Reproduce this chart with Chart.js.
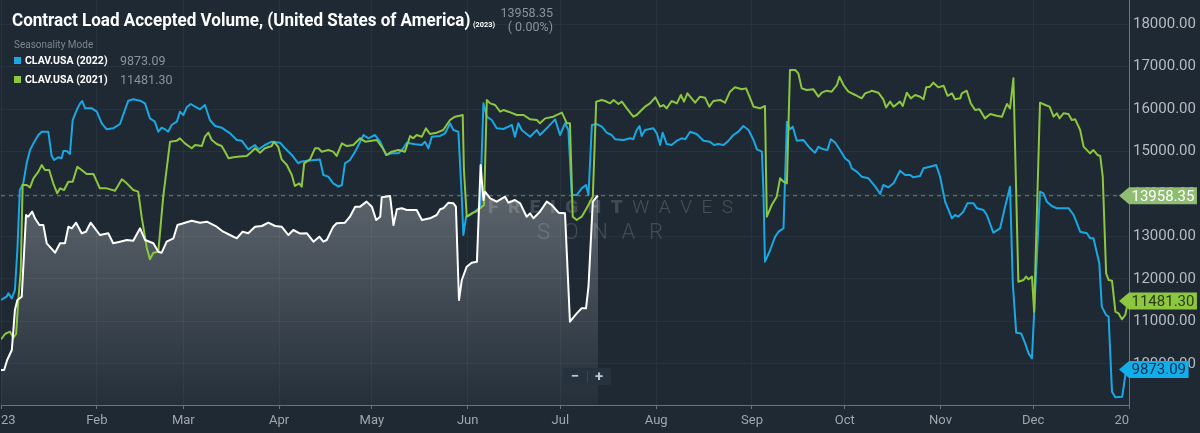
<!DOCTYPE html>
<html>
<head>
<meta charset="utf-8">
<script src="https://cdn.jsdelivr.net/npm/chart.js@4.4.1/dist/chart.umd.min.js"></script>
<style>
  html, body { margin: 0; padding: 0; background: #1e2934; }
  #wrap { position: relative; width: 1200px; height: 433px; overflow: hidden; font-family: Roboto, "Open Sans", sans-serif; }
  #chart { position: absolute; left: 0; top: 0; }
  .ov { position: absolute; white-space: nowrap; line-height: 1; }
  #title { left: 12px; top: 11px; font-size: 18px; font-weight: 700; color: #ffffff; transform-origin: 0 0; }
  #titleYear { left: 473px; top: 21px; font-size: 8px; font-weight: 700; color: #ffffff; transform-origin: 0 0; }
  #headVal, #headPct { left: 460px; width: 93px; text-align: right; font-size: 12.5px; color: #8a939c; }
  #headVal { top: 7px; }
  #headPct { top: 21px; }
  #season { left: 14px; top: 40px; font-size: 10px; color: #7d868e; }
  .sw { position: absolute; width: 7px; height: 7px; left: 14px; }
  .legName { left: 25px; font-size: 10.5px; font-weight: 700; color: #ffffff; }
  .legVal { left: 120px; font-size: 12.5px; color: #8a939c; }
  #zoomBox { left: 563px; top: 368px; width: 48px; height: 17px; background: #26323d; border-radius: 2px; }
  #zoomBox span { position: absolute; top: 0; width: 24px; height: 17px; line-height: 17px; text-align: center; color: #c3c8cd; font-size: 15px; font-weight: 700; }
  #zoomBox .sep { position: absolute; left: 24px; top: 3px; width: 1px; height: 11px; background: #3b4753; }
</style>
</head>
<body>
<div id="wrap">
  <canvas id="chart" width="1200" height="433"></canvas>
  <div class="ov" id="title">Contract Load Accepted Volume, (United States of America)</div>
  <div class="ov" id="titleYear">(2023)</div>
  <div class="ov" id="headVal"></div>
  <div class="ov" id="headPct">( 0.00%)</div>
  <div class="ov" id="season">Seasonality Mode</div>
  <div class="sw" style="top:57px;background:#1ba8e2"></div>
  <div class="ov legName" style="top:56px">CLAV.USA (2022)</div>
  <div class="ov legVal" id="legVal2022" style="top:55px"></div>
  <div class="sw" style="top:76px;background:#8dc63f"></div>
  <div class="ov legName" style="top:75px">CLAV.USA (2021)</div>
  <div class="ov legVal" id="legVal2021" style="top:74px"></div>
  <div class="ov" id="zoomBox"><span style="left:0">&minus;</span><div class="sep"></div><span style="left:24px">+</span></div>
</div>
<script>
// day of year (0 = Jan 1) and volume per series
const days2023 = [0, 1, 2, 3.5, 4.5, 5.3, 6.7, 7.4, 8.1, 8.8,
  10.1, 11, 12.4, 13.7, 14.8, 17.5, 19.1, 20.7, 21.8, 22.9,
  24.3, 26.1, 27.5, 29, 30.4, 32, 34.7, 36.3, 38.5, 40.7,
  42.8, 45, 46.6, 49.3, 50.9, 52, 53.6, 55.8, 57.1, 59,
  61.7, 64.4, 66.6, 69.8, 71.9, 74.1, 76.3, 78.2, 80, 82.2,
  84.4, 86.5, 88.7, 90.8, 93, 94.6, 96.8, 99, 101.1, 103,
  104.3, 105.4, 107.5, 108.6, 111.3, 112.9, 114.6, 116.2, 118.3, 120,
  121.4, 122.7, 123.2, 125.9, 127, 128.1, 129.7, 131.3, 134.5, 136.2,
  138.8, 141, 142.1, 143.1, 144.8, 146.4, 147.2, 148.2, 149.1, 150.7,
  152.3, 154, 155.2, 156.1, 156.6, 158.3, 160.4, 163.1, 164.2, 166.3,
  168, 170.1, 171.2, 172.3, 174.4, 176.6, 178.2, 180.4, 182.5, 184.1,
  186.3, 187.9, 189.3, 190.1, 191.5, 192.8, 193.2];
const vol2023 = [9860, 9860, 10094, 10330, 11270, 11506, 11584, 12525, 13506, 13466,
  13584, 13428, 13270, 13270, 12840, 12619, 12840, 12840, 13231, 13192,
  13325, 13075, 13113, 13325, 13192, 13035, 13075, 12840, 12878, 12918,
  12901, 13192, 12918, 12840, 12643, 12619, 12878, 12958, 13270, 13310,
  13372, 13325, 13349, 13231, 13113, 13035, 12958, 13113, 13075, 13231,
  13247, 13325, 13247, 13231, 13035, 13153, 13070, 13075, 12878, 12996,
  12878, 12918, 13231, 13310, 13325, 13466, 13702, 13702, 13820, 13702,
  13388, 13466, 13922, 13953, 13270, 13640, 13663, 13624, 13624, 13388,
  13428, 13506, 13640, 13663, 13796, 13780, 13702, 11506, 11976, 12290,
  12384, 12407, 14682, 13859, 14055, 13898, 13820, 13937, 13796, 13859,
  13780, 13466, 13545, 13428, 13584, 13820, 13741, 13561, 13545, 10996,
  11192, 11310, 11310, 11819, 13820, 13937, 13958.35];

const days2022 = [0, 1.8, 2.4, 3.5, 4.5, 5.3, 6.1, 7.2, 8.3, 9.4,
  10.5, 12.1, 13.2, 15.3, 16.4, 17.2, 18.5, 19.6, 20.2, 21.3,
  22.3, 23.2, 24.5, 25.6, 26.3, 27.2, 29.4, 31, 32.6, 34.2,
  36.3, 38.5, 40.1, 41.2, 42.8, 45, 46.6, 48.2, 49.8, 50.9,
  52, 53.1, 54.1, 55.2, 56.9, 57.9, 59, 60.1, 61.4, 62.8,
  64.4, 66, 67.6, 69.3, 71.4, 74.1, 76.3, 77.9, 80, 82.2,
  83.3, 85.4, 87.6, 90.3, 91.9, 94.1, 96.2, 97, 99, 101.6,
  103.2, 104.3, 105.9, 107.5, 109.2, 110.3, 111.3, 112.9, 114.6, 116.2,
  117.3, 118.9, 121, 122.7, 124.6, 126.4, 128.6, 130.2, 131.3, 134,
  136.2, 137.2, 138.3, 139.4, 142.1, 143.7, 145.3, 146.4, 148, 149.1,
  149.6, 150.5, 151.8, 154, 155, 156.1, 157.2, 158.8, 160.4, 162.6,
  164.2, 165.3, 166.3, 167.4, 168.5, 171.2, 173.4, 174.4, 177.1, 179.3,
  180.9, 182.5, 183.6, 184.7, 186.3, 187.9, 189.3, 190.1, 191.2, 192.8,
  194.4, 196, 197.6, 198.7, 201.4, 203.6, 204.6, 205.7, 206.6, 207.3,
  208.4, 211.1, 212.2, 213.3, 214.1, 215.4, 217, 218.7, 220.3, 221.4,
  223, 225.1, 227.3, 229.4, 230.7, 232.1, 233.8, 235.4, 237, 238.6,
  240.2, 241.9, 243.5, 244.6, 246.2, 246.7, 247.2, 248.9, 250.5, 251.6,
  253.2, 254.3, 255.3, 256.2, 257.5, 259.6, 261.8, 263.4, 264.5, 266.1,
  267.4, 268.5, 269.9, 271.5, 273.1, 274.5, 275.3, 276.9, 278.5, 280.7,
  282.9, 284.5, 285.5, 287.2, 288.8, 290.9, 292.6, 294.2, 295.2, 297.4,
  298.5, 300.6, 302.6, 303.9, 305.5, 307.7, 308.7, 309.8, 311.4, 312.7,
  314.7, 315.8, 317.9, 319, 321.1, 323.3, 324.9, 326.5, 327.4, 328.5,
  330.1, 331.4, 332.5, 333.6, 336.2, 337.3, 338.4, 340, 341.7, 343.3,
  345.5, 347.1, 349.2, 351.4, 352.4, 353.5, 355.4, 356.2, 357.6, 358.4,
  359.5, 360.6, 362.8, 363.9, 364.7];
const vol2022 = [11506, 11584, 11663, 11545, 11741, 12682, 14094, 14251, 14722, 15035,
  15192, 15388, 15466, 15466, 14894, 14800, 14863, 14840, 15012, 15012,
  14941, 15741, 15976, 16133, 16188, 16016, 16016, 15937, 15663, 15522,
  15545, 15647, 15976, 16196, 16228, 16196, 16133, 15780, 15702, 15466,
  15561, 15522, 15466, 15624, 15702, 15937, 15859, 16039, 16118, 16055,
  15992, 16094, 15741, 15600, 15561, 15428, 15271, 15255, 15051, 15153,
  15051, 15153, 15231, 15208, 15075, 14918, 14722, 14761, 14784, 14800,
  14810, 14447, 14408, 14251, 14173, 14212, 14722, 14800, 14996, 15231,
  15388, 15310, 15388, 15231, 14918, 14957, 14957, 15075, 15208, 15173,
  15153, 15231, 15075, 15349, 15365, 15428, 15663, 15506, 15466, 13937,
  13035, 13466, 13506, 13624, 13702, 16133, 15820, 15741, 15545, 15530,
  15584, 15624, 15349, 15663, 15506, 15349, 15506, 15388, 15584, 15757,
  15388, 15663, 15506, 13976, 13976, 14133, 14212, 13976, 15624, 15647,
  15584, 15443, 15388, 15290, 15271, 15310, 15290, 15506, 15600, 15365,
  15506, 15545, 15428, 15153, 15443, 15176, 15153, 15255, 15310, 15290,
  15466, 15412, 15255, 15231, 15153, 15176, 15153, 15255, 15388, 15466,
  15600, 15506, 15271, 15051, 14996, 14094, 12407, 12682, 12996, 13113,
  13192, 15702, 15522, 15584, 15255, 15271, 15075, 14973, 15110, 15051,
  15035, 15290, 15212, 15035, 14840, 14761, 14604, 14526, 14408, 14369,
  14173, 14000, 14212, 14157, 14251, 14549, 14447, 14447, 14392, 14424,
  14604, 14643, 14682, 14400, 13820, 13428, 13506, 13467, 13584, 13780,
  13780, 13663, 13624, 13506, 13090, 13192, 13702, 14173, 11898, 10737,
  10720, 10486, 10251, 10133, 14055, 14016, 13820, 13718, 13663, 13663,
  13663, 13506, 13113, 13075, 12958, 12958, 12369, 11349, 11153, 11113,
  9349, 9216, 9231, 9781, 9873.09];

const days2021 = [0, 1.3, 2.9, 4, 4.9, 5.6, 6.4, 7, 8.3, 9.4,
  10.5, 12.1, 13.2, 14.2, 15.6, 16.9, 18.2, 19.1, 20.4, 21.8,
  23.2, 24.7, 26.1, 27.7, 29.9, 32, 34.2, 36.9, 39.1, 40.7,
  42.8, 44.4, 45.5, 47.2, 48.2, 49.3, 50.9, 52.5, 54.7, 56.9,
  57.9, 59.5, 61.7, 62.8, 65, 66, 67.1, 68.2, 69.8, 71.4,
  72.5, 73.6, 75.2, 77.3, 79.5, 81.1, 82.2, 83.8, 85.4, 87.6,
  88.3, 89.7, 90.8, 92.5, 94.1, 95.1, 96.5, 97.3, 98.1, 100,
  101.6, 102.7, 103.8, 105.9, 107.5, 108.6, 110.3, 111.9, 114, 116.2,
  117.8, 120, 121.6, 123.2, 124.8, 126.4, 128.6, 130.7, 132.4, 133.4,
  134.5, 136.2, 137.5, 138.8, 141, 143.1, 145.3, 146.9, 149.4, 149.8,
  150.7, 152.3, 154, 155.6, 156.3, 157.2, 158.3, 159.9, 161.5, 162.6,
  164.2, 166.9, 169.1, 171.2, 173.4, 174.4, 176.1, 178.7, 181.5, 183.1,
  184.1, 185, 186.3, 187.9, 189.5, 191.5, 192.6, 194.4, 195.5, 197.1,
  198.2, 199.8, 200.9, 202.5, 204.6, 205.7, 207.3, 208.4, 210, 211.7,
  213.3, 214.3, 215.4, 217, 218.7, 220, 221, 222.1, 223, 224.6,
  226.2, 227.8, 229.2, 230.5, 232.7, 234.3, 235.9, 237.5, 239.7, 241.1,
  242.2, 243.5, 245.6, 247.2, 247.8, 249.4, 251, 252.1, 253.2, 254.3,
  255.3, 257, 258, 259.1, 260.7, 262.9, 264.5, 265.6, 267.2, 268.8,
  270.5, 271.3, 272.6, 274.2, 276.4, 278.5, 279.6, 281.2, 281.8, 283.9,
  285.5, 286.4, 287.7, 288.8, 290.9, 291.8, 293.1, 294.4, 295.8, 297.4,
  298.5, 299.4, 300.6, 301.7, 303.3, 305, 306.3, 307.7, 308.7, 310.4,
  310.9, 312.5, 313.8, 315.2, 316.6, 318.4, 320.1, 322.2, 323.9, 325.5,
  326.5, 327.6, 329.2, 330.9, 331.7, 332.5, 333.6, 334.3, 336.2, 337.9,
  339.3, 340.6, 341.7, 342.5, 343.8, 345.4, 346.5, 347.6, 349.2, 350.3,
  352.4, 353.5, 354.8, 355.7, 356.5, 357.6, 358.4, 359.5, 360.6, 361.6,
  362.7, 363.8, 364.7];
const vol2021 = [10580, 10706, 10761, 10620, 10706, 11506, 12212, 14212, 14212, 14157,
  14369, 14526, 14682, 14565, 14565, 14251, 14016, 14133, 14094, 14290,
  14290, 14643, 14565, 14470, 14470, 14133, 14133, 14078, 14345, 14251,
  14094, 14055, 13466, 12722, 12463, 12619, 12643, 13937, 15231, 15255,
  15310, 15192, 15075, 15153, 15129, 15349, 15443, 15271, 15176, 15129,
  14996, 14840, 14863, 14880, 14894, 14996, 15075, 14973, 15075, 15129,
  15231, 15110, 14816, 14682, 14447, 14188, 14251, 14173, 14722, 14816,
  15075, 15075, 14996, 15035, 14996, 14894, 15192, 15129, 15153, 15310,
  15231, 15255, 15271, 15110, 14918, 14996, 15035, 14996, 15365, 15310,
  15388, 15349, 15545, 15412, 15443, 15506, 15741, 15820, 15859, 14565,
  13466, 13545, 13600, 13702, 13741, 16212, 16133, 16094, 15937, 15976,
  15937, 15859, 15859, 15757, 15741, 15663, 15780, 15820, 15914, 15663,
  15663, 13466, 13388, 13466, 13663, 13937, 16173, 16212, 16188, 16133,
  16212, 16118, 16173, 16016, 15820, 15859, 15976, 16055, 16133, 16275,
  16055, 16094, 16016, 16188, 16133, 16330, 16173, 16369, 16290, 16149,
  16290, 16267, 16055, 16188, 16212, 16149, 16408, 16510, 16463, 16486,
  16290, 16055, 16016, 16071, 13466, 13741, 13937, 14369, 14290, 14251,
  16918, 16918, 16840, 16486, 16447, 16463, 16290, 16384, 16431, 16408,
  16565, 16761, 16565, 16408, 16330, 16251, 16369, 16408, 16431, 16384,
  16228, 16039, 16173, 16055, 16173, 16071, 16384, 16251, 16330, 16290,
  16228, 16510, 16526, 16620, 16510, 16549, 16310, 16369, 16228, 16251,
  16369, 16431, 16133, 15976, 15992, 15780, 15882, 15843, 15820, 16118,
  16016, 16722, 11937, 11976, 12055, 11992, 12055, 11231, 16149, 16094,
  16055, 15820, 15898, 15780, 15898, 15882, 15741, 15757, 15506, 15114,
  14957, 15035, 14918, 14894, 14408, 12133, 11976, 11960, 11231, 11192,
  11051, 11153, 11481.30];

const monthStarts = [0, 31, 59, 90, 120, 151, 181, 212, 243, 273, 304, 334, 365];
const monthLabels = ["23", "Feb", "Mar", "Apr", "May", "Jun", "Jul", "Aug", "Sep", "Oct", "Nov", "Dec", "20"];
const yTicks = [10000, 11000, 12000, 13000, 14000, 15000, 16000, 17000, 18000];

const last2023 = vol2023[vol2023.length - 1];
const last2022 = vol2022[vol2022.length - 1];
const last2021 = vol2021[vol2021.length - 1];

document.getElementById("headVal").textContent = last2023.toFixed(2);
document.getElementById("legVal2022").textContent = last2022.toFixed(2);
document.getElementById("legVal2021").textContent = last2021.toFixed(2);

// the title font is a condensed one, squeeze Roboto to the same width
function squeeze(id, width) {
  const el = document.getElementById(id);
  el.style.transform = "scaleX(" + (width / el.offsetWidth) + ")";
}
squeeze("title", 458);
squeeze("titleYear", 22);

function toPoints(days, vals) {
  return days.map((d, i) => ({ x: d, y: vals[i] }));
}

const GRID = "rgba(255,255,255,0.045)";
const AXIS = "#6b737b";

function spaced(ctx, parts, x, y, width) {
  const chars = [];
  parts.forEach((p) => { for (const ch of p.text) chars.push({ ch, font: p.font, color: p.color }); });
  let sum = 0;
  chars.forEach((c) => { ctx.font = c.font; c.w = ctx.measureText(c.ch).width; sum += c.w; });
  const gap = (width - sum) / (chars.length - 1);
  let cx = x;
  chars.forEach((c) => {
    ctx.font = c.font;
    ctx.fillStyle = c.color;
    ctx.fillText(c.ch, cx, y);
    cx += c.w + gap;
  });
}

const tags = [
  { value: last2023, bg: "#8fbd72", fg: "#ffffff" },
  { value: last2021, bg: "#8dc63f", fg: "#2b3a1c" },
  { value: last2022, bg: "#10aeea", fg: "#0f2f48" },
];

const extras = {
  id: "extras",
  beforeDatasetsDraw(chart) {
    const { ctx, chartArea: a, scales: { y } } = chart;
    ctx.save();
    // watermark
    ctx.textBaseline = "alphabetic";
    spaced(ctx, [
      { text: "FREIGHT", font: "900 19px Roboto", color: "rgba(255,255,255,0.16)" },
      { text: "WAVES", font: "300 19px Roboto", color: "rgba(255,255,255,0.18)" },
    ], 488, 213, 245);
    spaced(ctx, [{ text: "SONAR", font: "300 22px Roboto", color: "rgba(255,255,255,0.16)" }], 537, 239, 126);
    // current value line
    const yy = y.getPixelForValue(last2023);
    ctx.strokeStyle = "rgba(128,175,95,0.75)";
    ctx.lineWidth = 1;
    ctx.setLineDash([4, 4]);
    ctx.beginPath();
    ctx.moveTo(a.left, yy);
    ctx.lineTo(a.right, yy);
    ctx.stroke();
    ctx.restore();
  },
  afterDraw(chart) {
    const { ctx, chartArea: a, scales: { y } } = chart;
    ctx.save();
    ctx.font = "15px Roboto";
    tags.forEach((t) => {
      const yy = y.getPixelForValue(t.value);
      const txt = t.value.toFixed(2);
      const w = ctx.measureText(txt).width + 5;
      ctx.fillStyle = t.bg;
      ctx.beginPath();
      ctx.moveTo(a.right - 10, yy);
      ctx.lineTo(a.right, yy - 8.5);
      ctx.lineTo(a.right + w, yy - 8.5);
      ctx.lineTo(a.right + w, yy + 8.5);
      ctx.lineTo(a.right, yy + 8.5);
      ctx.closePath();
      ctx.fill();
      ctx.fillStyle = t.fg;
      ctx.textAlign = "left";
      ctx.textBaseline = "middle";
      ctx.fillText(txt, a.right + 2.5, yy + 1);
    });
    ctx.restore();
  },
};

Chart.defaults.font.family = "Roboto";

new Chart(document.getElementById("chart"), {
  type: "line",
  data: {
    datasets: [
      {
        label: "CLAV.USA (2023)",
        data: toPoints(days2023, vol2023),
        borderColor: "#ffffff",
        borderWidth: 2,
        pointRadius: 0,
        fill: "start",
        backgroundColor: (c) => {
          const a = c.chart.chartArea;
          if (!a) return "rgba(255,255,255,0.2)";
          const g = c.chart.ctx.createLinearGradient(0, a.top, 0, a.bottom);
          g.addColorStop(0, "rgba(255,255,255,0.50)");
          g.addColorStop(1, "rgba(255,255,255,0.03)");
          return g;
        },
      },
      {
        label: "CLAV.USA (2021)",
        data: toPoints(days2021, vol2021),
        borderColor: "#8dc63f",
        borderWidth: 2,
        pointRadius: 0,
        fill: false,
      },
      {
        label: "CLAV.USA (2022)",
        data: toPoints(days2022, vol2022),
        borderColor: "#1ba8e2",
        borderWidth: 2,
        pointRadius: 0,
        fill: false,
      },
    ],
  },
  options: {
    responsive: false,
    animation: false,
    events: [],
    layout: { padding: { left: 1, top: 0, right: 0, bottom: 0 } },
    elements: { line: { tension: 0, borderJoinStyle: "round" } },
    plugins: {
      legend: { display: false },
      tooltip: { enabled: false },
      filler: { drawTime: "beforeDatasetsDraw" },
    },
    scales: {
      x: {
        type: "linear",
        min: 0,
        max: 365,
        afterBuildTicks: (s) => { s.ticks = monthStarts.map((v) => ({ value: v })); },
        afterFit: (s) => { s.height = 28; s.paddingLeft = 0; s.paddingRight = 0; },
        ticks: {
          autoSkip: false,
          maxRotation: 0,
          align: "inner",
          padding: 4,
          color: "#a0a6ac",
          font: { size: 13 },
          callback: (v, i) => monthLabels[i],
        },
        grid: { color: GRID, tickColor: AXIS, tickLength: 4 },
        border: { color: AXIS },
      },
      y: {
        position: "right",
        min: 9035,
        max: 18565,
        afterBuildTicks: (s) => { s.ticks = yTicks.map((v) => ({ value: v })); },
        afterFit: (s) => { s.width = 71; s.paddingTop = 0; s.paddingBottom = 0; },
        ticks: {
          padding: 4,
          color: "#b5bbc1",
          font: { size: 15 },
          callback: (v) => Number(v).toFixed(2),
        },
        grid: { color: GRID, drawTicks: false },
        border: { color: AXIS },
      },
    },
  },
  plugins: [extras],
});
</script>
</body>
</html>
